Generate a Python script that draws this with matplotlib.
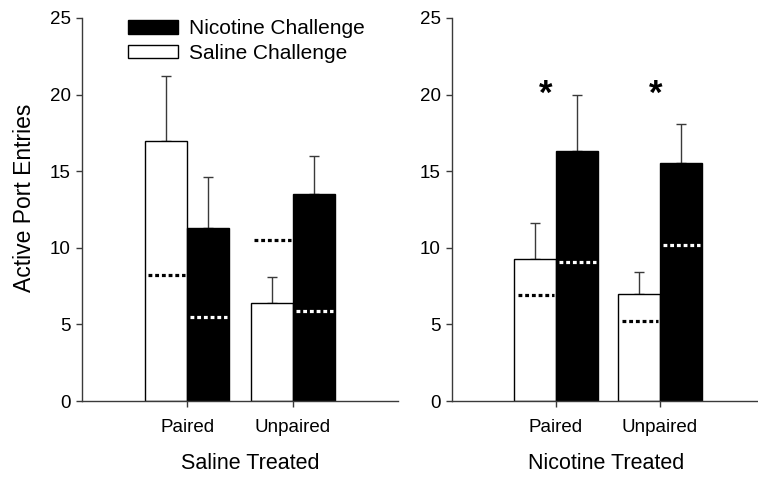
import numpy as np
import matplotlib
matplotlib.use('Agg')
import matplotlib.pyplot as plt
from matplotlib.patches import Patch

plt.rcParams['font.family'] = ['Liberation Sans', 'DejaVu Sans']

# Données
groupes = ['Paired', 'Unpaired']
panneaux = ['Saline Treated', 'Nicotine Treated']

# Saline Treated
st_saline = [17.0, 6.4]
st_saline_sem = [4.2, 1.7]
st_saline_base = [8.2, 10.5]
st_nicotine = [11.3, 13.5]
st_nicotine_sem = [3.3, 2.5]
st_nicotine_base = [5.5, 5.9]

# Nicotine Treated
nt_saline = [9.3, 7.0]
nt_saline_sem = [2.3, 1.4]
nt_saline_base = [6.9, 5.25]
nt_nicotine = [16.3, 15.55]
nt_nicotine_sem = [3.7, 2.55]
nt_nicotine_base = [9.1, 10.2]

# Étoiles (x, y) panneau droit
etoiles_x = [0.9, 1.96]
etoiles_y = [20.0, 20.0]

GRIS = '#3a3a3a'
largeur = 0.4


def tracer_panneau(ax, saline, saline_sem, saline_base, nico, nico_sem, nico_base):
    x = np.arange(1, len(groupes) + 1)
    xs = x - largeur / 2
    xn = x + largeur / 2
    ax.bar(xs, saline, largeur, color='white', edgecolor='black', linewidth=1.0, zorder=2)
    ax.bar(xn, nico, largeur, color='black', edgecolor='black', linewidth=1.0, zorder=2)
    # barres d'erreur (seulement vers le haut)
    ax.errorbar(xs, saline, yerr=[np.zeros(len(saline)), saline_sem], fmt='none',
                ecolor=GRIS, elinewidth=1.0, capsize=3.8, capthick=1.0, zorder=1)
    ax.errorbar(xn, nico, yerr=[np.zeros(len(nico)), nico_sem], fmt='none',
                ecolor=GRIS, elinewidth=1.0, capsize=3.8, capthick=1.0, zorder=1)
    # lignes pointillées (niveau de base)
    for xi, b in zip(xs, saline_base):
        ax.plot([xi - 0.17, xi + 0.18], [b, b], color='black', lw=2.3,
                linestyle=(0, (1.2, 0.9)), solid_capstyle='butt', zorder=3)
    for xi, b in zip(xn, nico_base):
        ax.plot([xi - 0.17, xi + 0.18], [b, b], color='white', lw=2.3,
                linestyle=(0, (1.2, 0.9)), solid_capstyle='butt', zorder=3)

    ax.set_xlim(0, 3)
    ax.set_ylim(0, 25)
    ax.set_yticks([0, 5, 10, 15, 20, 25])
    ax.set_xticks(x)
    ax.set_xticklabels(groupes, fontsize=13.5)
    ax.tick_params(axis='y', labelsize=13.5, length=4, width=1.0, color=GRIS, pad=4)
    ax.tick_params(axis='x', length=4, width=1.0, color=GRIS, pad=9)
    for s in ['top', 'right']:
        ax.spines[s].set_visible(False)
    for s in ['left', 'bottom']:
        ax.spines[s].set_color(GRIS)
        ax.spines[s].set_linewidth(1.0)


fig = plt.figure(figsize=(7.58, 4.79), dpi=100)
ax1 = fig.add_axes([82 / 758, 78 / 479, 316 / 758, 383 / 479])
ax2 = fig.add_axes([452 / 758, 78 / 479, 312 / 758, 383 / 479])

tracer_panneau(ax1, st_saline, st_saline_sem, st_saline_base,
               st_nicotine, st_nicotine_sem, st_nicotine_base)
tracer_panneau(ax2, nt_saline, nt_saline_sem, nt_saline_base,
               nt_nicotine, nt_nicotine_sem, nt_nicotine_base)

ax1.set_ylabel('Active Port Entries', fontsize=16.5)
ax1.yaxis.set_label_coords(-0.145, 0.53)

ax1.set_xlabel(panneaux[0], fontsize=15.5)
ax1.xaxis.set_label_coords(168 / 316, -0.135)
ax2.set_xlabel(panneaux[1], fontsize=15.5)
ax2.xaxis.set_label_coords(154 / 312, -0.135)

for ex, ey in zip(etoiles_x, etoiles_y):
    ax2.text(ex, ey, '*', fontsize=25, fontweight='bold', ha='center', va='center')

handles = [Patch(facecolor='black', edgecolor='black', label='Nicotine Challenge'),
           Patch(facecolor='white', edgecolor='black', label='Saline Challenge')]
ax1.legend(handles=handles, loc='upper left', bbox_to_anchor=(0.146, 0.997),
           frameon=False, fontsize=15, handlelength=2.4, handleheight=0.62,
           handletextpad=0.5, labelspacing=0.28, borderpad=0, borderaxespad=0)

fig.savefig('out.png', dpi=100)
